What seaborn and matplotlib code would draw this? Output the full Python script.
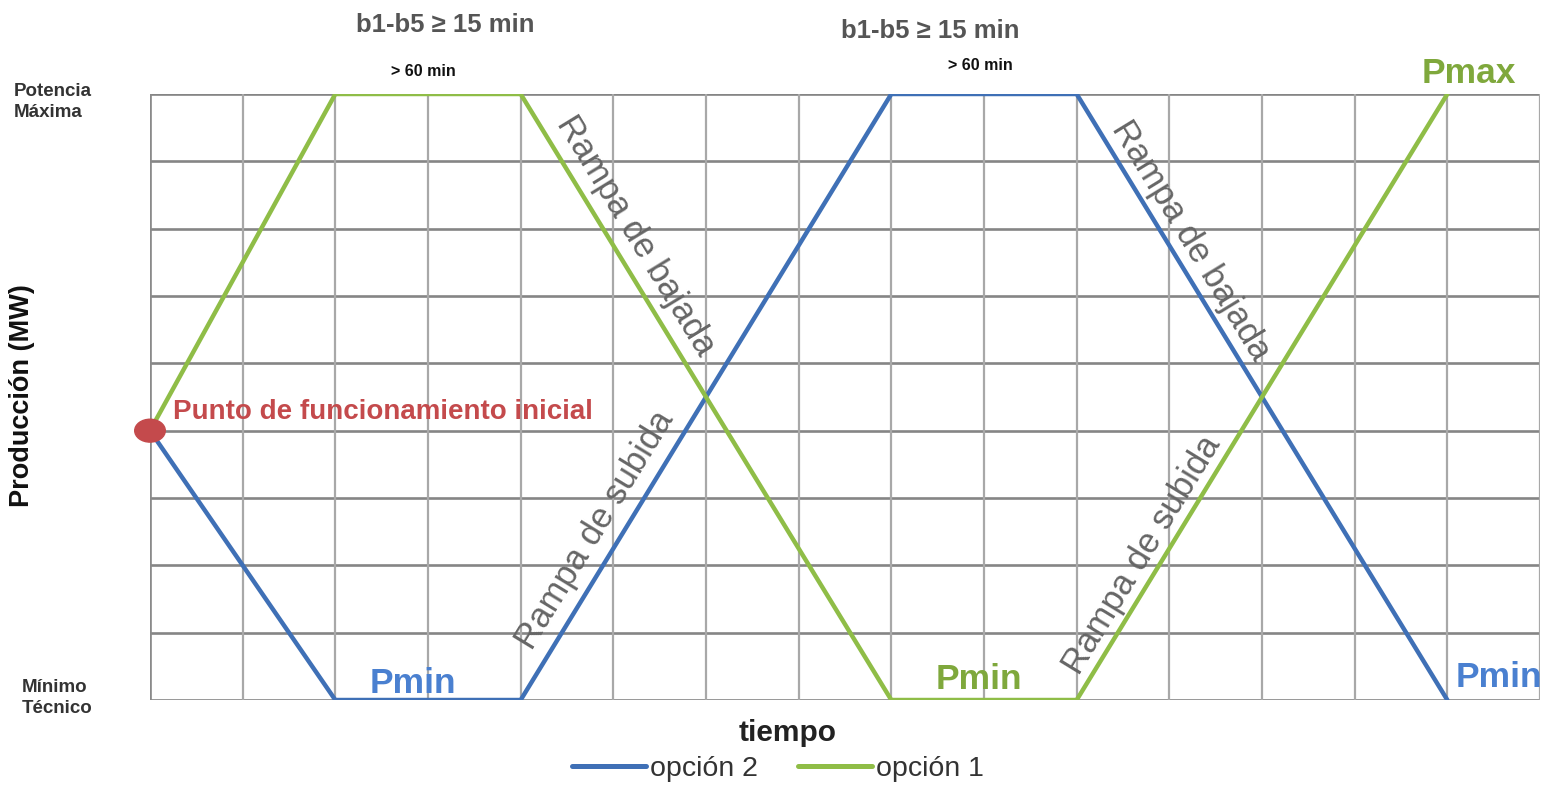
import numpy as np
import pandas as pd
import seaborn as sns
import matplotlib.pyplot as plt
from matplotlib.patches import Ellipse

# time steps (grid units) and production levels (0 = minimo tecnico, 9 = potencia maxima)
tiempo = [0, 2, 4, 8, 10, 14]
opcion_1 = [4, 9, 9, 0, 0, 9]
opcion_2 = [4, 0, 0, 9, 9, 0]
series_names = ["opción 2", "opción 1"]
y_tick_labels = ["Potencia\nMáxima", "Mínimo\nTécnico"]

df = pd.DataFrame({
    "tiempo": tiempo * 2,
    "produccion": opcion_2 + opcion_1,
    "serie": [series_names[0]] * len(tiempo) + [series_names[1]] * len(tiempo),
})

sns.set_style("white")
plt.rcParams["font.family"] = ["Liberation Sans", "DejaVu Sans"]

blue = "#3f70b6"
green = "#8fbd47"
red = "#c44a4c"

fig = plt.figure(figsize=(15.42, 7.86), dpi=100)
ax = fig.add_axes([150 / 1542, 1 - 700 / 786, 1390 / 1542, 606 / 786])

# grid
for y in range(0, 10):
    ax.axhline(y, color="#858585", lw=1.9, zorder=1)
for x in range(0, 16):
    ax.axvline(x, color="#a8a8a8", lw=1.6, zorder=1)
ax.axvline(0, color="#8a8a8a", lw=1.9, zorder=1)

sns.lineplot(data=df, x="tiempo", y="produccion", hue="serie",
             palette={series_names[0]: blue, series_names[1]: green},
             linewidth=3.2, ax=ax, legend=False, zorder=3)

# initial operating point (slightly wider than tall, as in the source)
ax.add_patch(Ellipse((tiempo[0], opcion_1[0]), 0.33, 0.34, color=red,
                     clip_on=False, zorder=5))

ax.set_xlim(0, 15)
ax.set_ylim(0, 9)
for s in ax.spines.values():
    s.set_visible(False)
ax.set_xticks(range(0, 16, 2))
ax.set_yticks(range(0, 10))
ax.set_xticklabels([])
ax.set_yticklabels([])
ax.tick_params(axis="both", length=7, width=1.6, color="#999999", direction="out")

# y labels at both ends
ytr = ax.get_yaxis_transform()
ax.text(-0.098, 8.88, y_tick_labels[0], transform=ytr, ha="left", va="center",
        fontsize=13.5, fontweight="bold", color="#333333", linespacing=1.3)
ax.text(-0.092, 0.03, y_tick_labels[1], transform=ytr, ha="left", va="center",
        fontsize=13.5, fontweight="bold", color="#333333", linespacing=1.3)

ax.set_ylabel("Producción (MW)", fontsize=19.5, fontweight="bold", color="#111111")
ax.yaxis.set_label_coords(-0.083, 0.503)
ax.set_xlabel("tiempo", fontsize=21.5, fontweight="bold", color="#222222")
ax.xaxis.set_label_coords(0.459, -0.031)

# ramp labels along the lines
ang_down = np.degrees(np.arctan2(-9, 4))
ang_up = np.degrees(np.arctan2(9, 4))
ramp_kw = dict(fontsize=25, color="#666666", ha="center", va="center",
               rotation_mode="anchor", transform_rotates_text=True, zorder=4)
ax.text(5.24, 6.9, "Rampa de bajada", rotation=ang_down, **ramp_kw)
ax.text(11.23, 6.83, "Rampa de bajada", rotation=ang_down, **ramp_kw)
ax.text(4.8, 2.53, "Rampa de subida", rotation=ang_up, **ramp_kw)
ax.text(10.71, 2.15, "Rampa de subida", rotation=ang_up, **ramp_kw)

ax.text(0.25, 4.28, "Punto de funcionamiento inicial", fontsize=20, fontweight="bold",
        color=red, ha="left", va="center", zorder=4)

p_kw = dict(fontsize=25.5, fontweight="bold", ha="center", va="center", clip_on=False, zorder=4)
ax.text(2.84, 0.25, "Pmin", color="#4a80d0", **p_kw)
ax.text(8.94, 0.3, "Pmin", color="#7fa83c", **p_kw)
ax.text(14.56, 0.33, "Pmin", color="#4a80d0", **p_kw)
ax.text(14.23, 9.3, "Pmax", color="#7fa83c", **p_kw)

b_kw = dict(fontsize=18.5, fontweight="bold", color="#555555", ha="center", va="center",
            clip_on=False)
ax.text(3.19, 10.03, "b1-b5 ≥ 15 min", **b_kw)
ax.text(8.42, 9.93, "b1-b5 ≥ 15 min", **b_kw)
m_kw = dict(fontsize=11.5, fontweight="bold", color="#111111", ha="center", va="center",
            clip_on=False)
ax.text(2.95, 9.33, "> 60 min", **m_kw)
ax.text(8.96, 9.42, "> 60 min", **m_kw)

# legend
handles = [plt.Line2D([], [], color=blue, lw=3.6), plt.Line2D([], [], color=green, lw=3.6)]
fig.legend(handles, series_names, loc="center", bbox_to_anchor=(778 / 1542, 1 - 769 / 786),
           ncol=2, frameon=False, fontsize=20.5, handlelength=2.6, handletextpad=0.15,
           columnspacing=1.4, labelcolor="#333333", borderpad=0.1)

fig.savefig("out.png", dpi=100)
